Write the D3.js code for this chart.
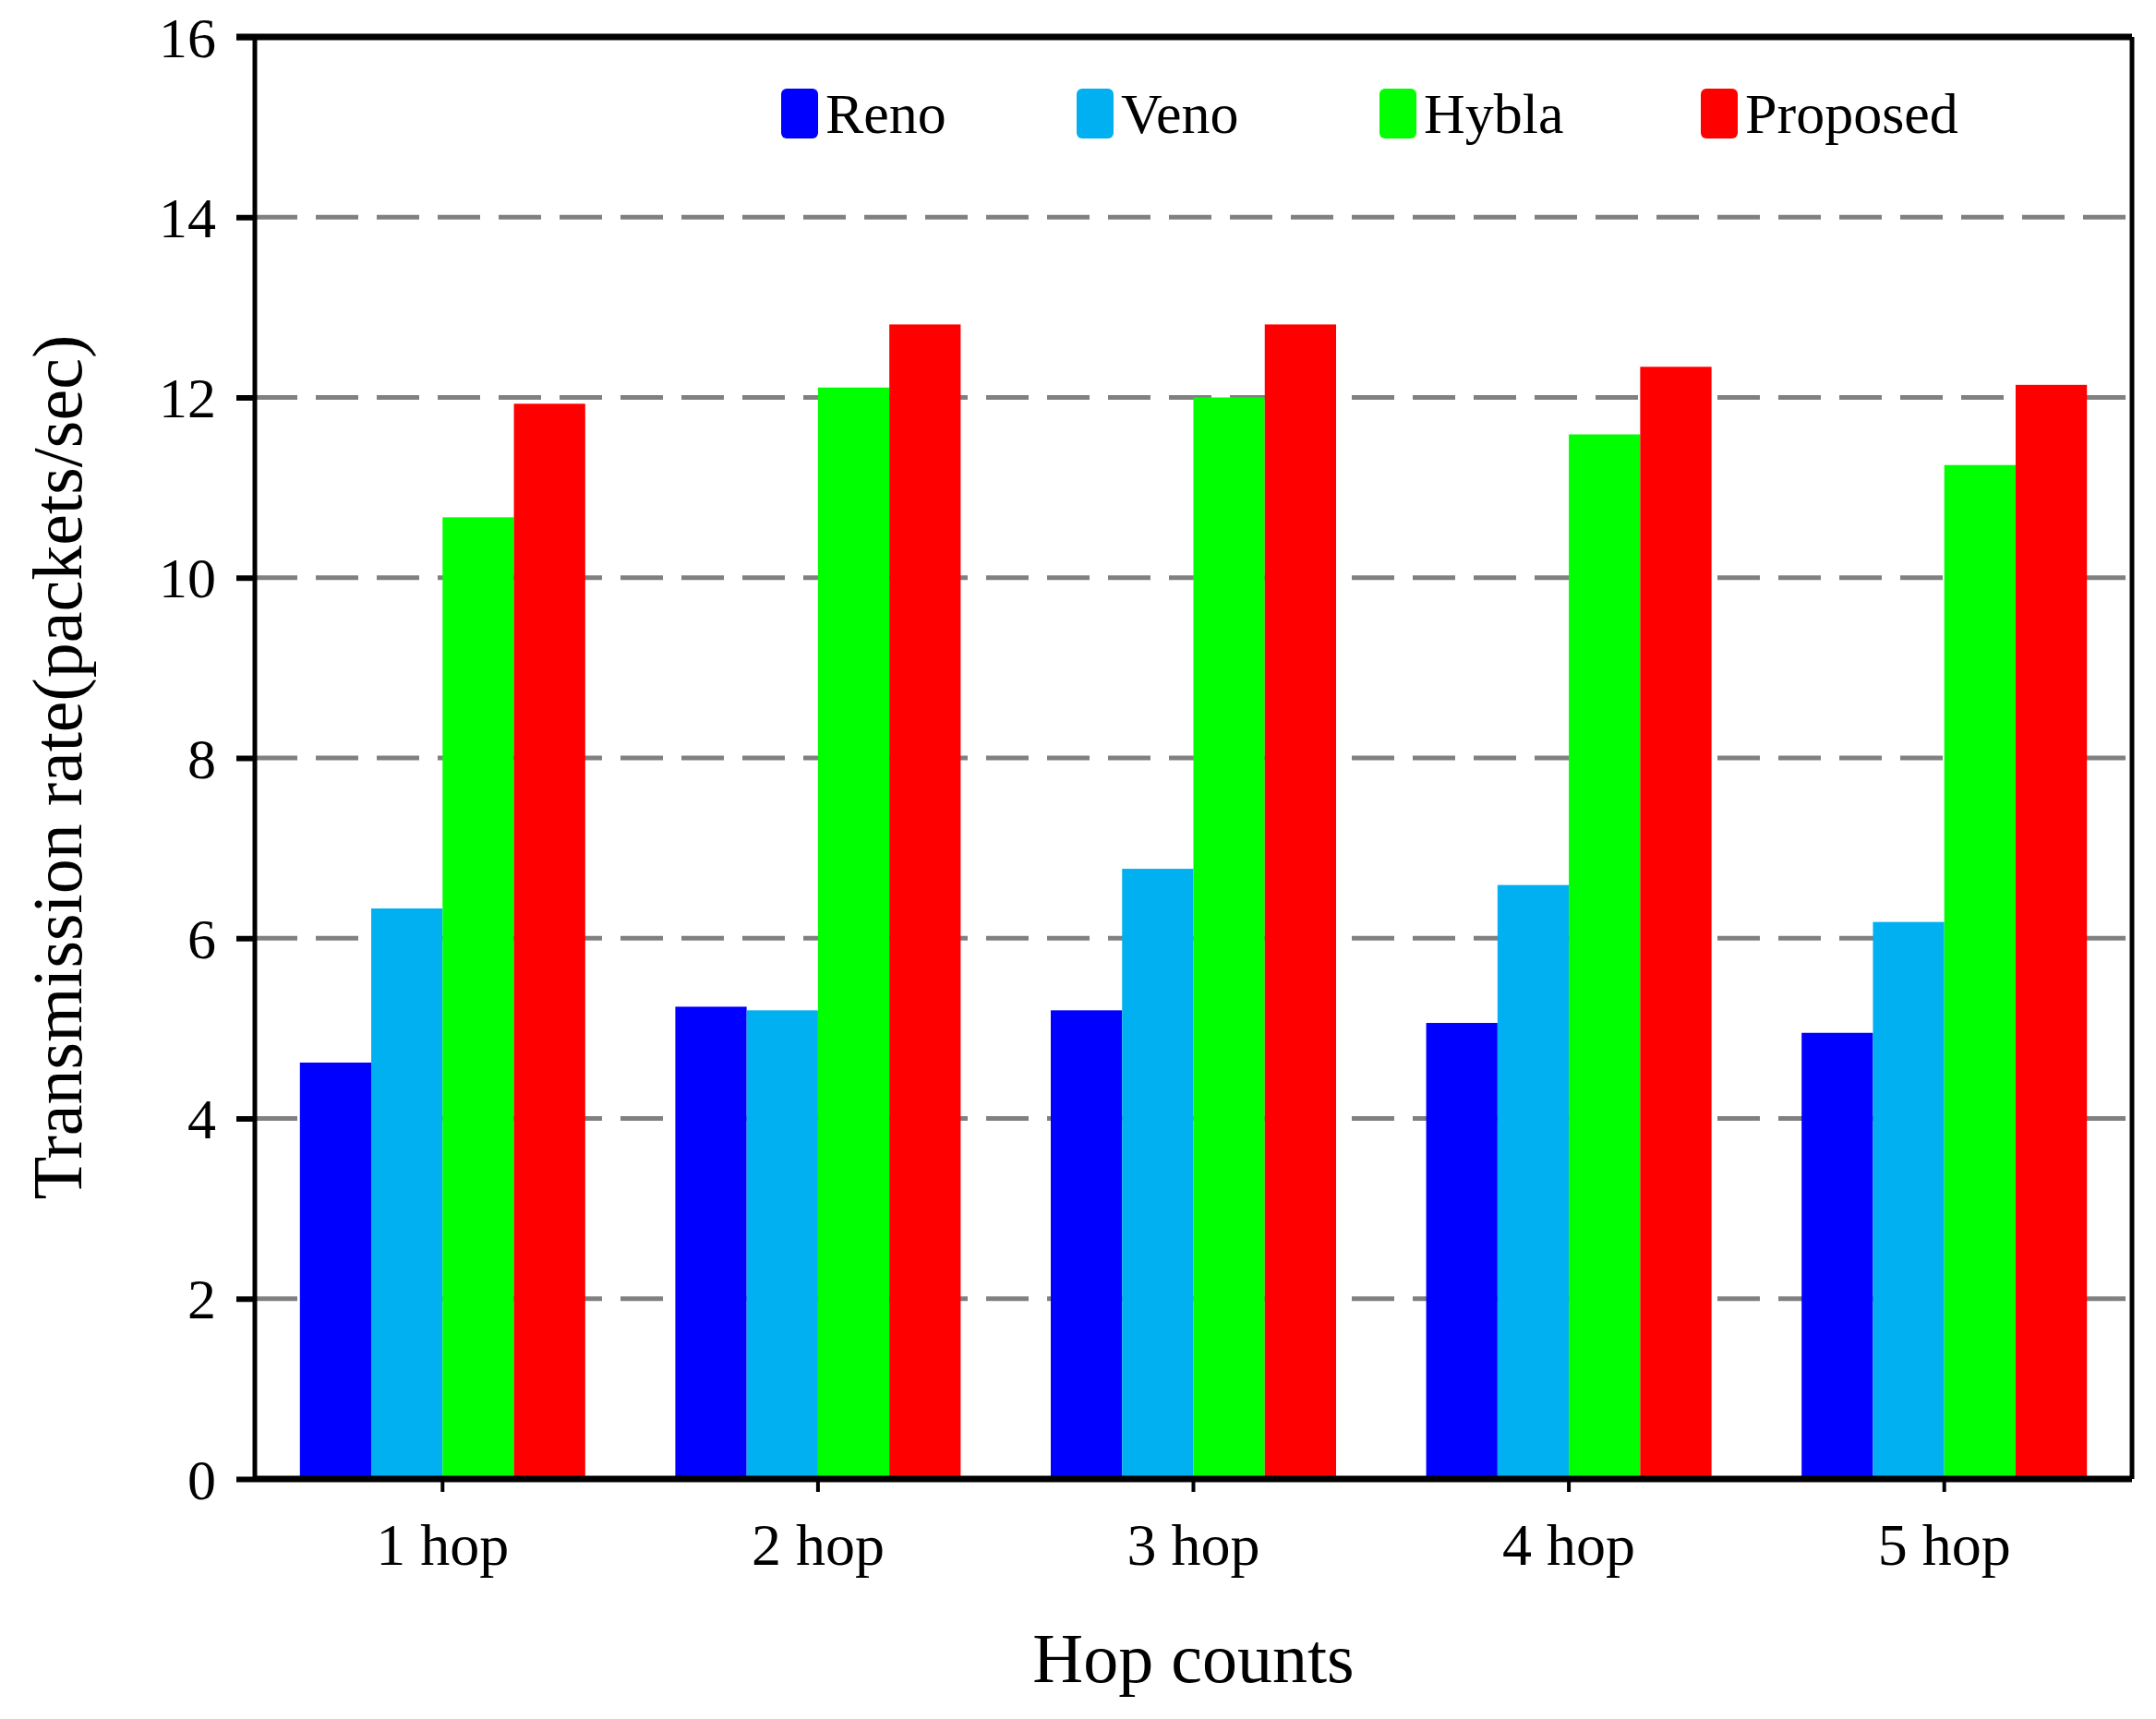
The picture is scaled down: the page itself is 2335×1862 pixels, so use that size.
<!doctype html>
<html lang="en">
<head>
<meta charset="utf-8">
<title>Transmission rate vs hop counts</title>
<style>
body { margin: 0; background: #fff; }
text { font-family: "Liberation Serif", "Times New Roman", serif; fill: #000; }
</style>
</head>
<body>
<script src="https://cdn.jsdelivr.net/npm/d3@7"></script>
<script>

var hops = ["1 hop", "2 hop", "3 hop", "4 hop", "5 hop"];
var series = ["Reno", "Veno", "Hybla", "Proposed"];
var colors = ["#0000ff", "#00b0f0", "#00ff00", "#ff0000"];
var reno = [4.62, 5.24, 5.2, 5.06, 4.95];
var veno = [6.33, 5.2, 6.77, 6.59, 6.18];
var hybla = [10.67, 12.11, 12.0, 11.59, 11.25];
var proposed = [11.93, 12.81, 12.81, 12.34, 12.14];
var yTicks = [0, 2, 4, 6, 8, 10, 12, 14, 16];

var values = [reno, veno, hybla, proposed];

var W = 2335, H = 1862;
var margin = {top: 40, right: 26, bottom: 260, left: 276};
var width = W - margin.left - margin.right,
	height = H - margin.top - margin.bottom;

var svg = d3.select("body").append("svg")
	.attr("width", W)
	.attr("height", H);

var g = svg.append("g")
	.attr("transform", "translate(" + margin.left + "," + margin.top + ")");

var x = d3.scaleBand()
	.domain(hops)
	.range([0, width])
	.paddingInner(0.24)
	.paddingOuter(0.12);

var xs = d3.scaleBand()
	.domain(series)
	.range([0, x.bandwidth()]);

var y = d3.scaleLinear()
	.domain([0, 16])
	.range([height, 0]);

// dashed grid
g.selectAll(".grid")
	.data(yTicks.filter(function (d) { return d > 0 && d < 16; }))
	.join("line")
	.attr("x1", 0)
	.attr("x2", width)
	.attr("y1", function (d) { return y(d); })
	.attr("y2", function (d) { return y(d); })
	.attr("stroke", "#808080")
	.attr("stroke-width", 5)
	.attr("stroke-dasharray", "46,20");

// bars
var groups = g.selectAll(".grp")
	.data(hops)
	.join("g")
	.attr("transform", function (d) { return "translate(" + x(d) + ",0)"; });

groups.selectAll("rect")
	.data(function (d, i) {
		return series.map(function (s, j) { return {s: s, v: values[j][i], c: colors[j]}; });
	})
	.join("rect")
	.attr("x", function (d) { return xs(d.s); })
	.attr("width", xs.bandwidth())
	.attr("y", function (d) { return y(d.v); })
	.attr("height", function (d) { return height - y(d.v); })
	.attr("fill", function (d) { return d.c; });

// y axis
var yAxis = g.append("g")
	.call(d3.axisLeft(y).tickValues(yTicks).tickSize(20).tickPadding(22));
yAxis.select(".domain").remove();
yAxis.selectAll("line").attr("stroke", "#000").attr("stroke-width", 6);
yAxis.selectAll("text").style("font-size", "62px").attr("dy", "0.34em");

// x axis
var xAxis = g.append("g")
	.attr("transform", "translate(0," + height + ")")
	.call(d3.axisBottom(x).tickSize(14).tickPadding(34));
xAxis.select(".domain").remove();
xAxis.selectAll("line").attr("stroke", "#000").attr("stroke-width", 4);
xAxis.selectAll("text").style("font-size", "64px");

// frame
g.append("line").attr("x1", 0).attr("x2", width).attr("y1", height).attr("y2", height)
	.attr("stroke", "#000").attr("stroke-width", 7);
g.append("line").attr("x1", -20).attr("x2", width).attr("y1", 0).attr("y2", 0)
	.attr("stroke", "#000").attr("stroke-width", 7);
g.append("line").attr("x1", 0).attr("x2", 0).attr("y1", 0).attr("y2", height)
	.attr("stroke", "#000").attr("stroke-width", 5);
g.append("line").attr("x1", width).attr("x2", width).attr("y1", 0).attr("y2", height)
	.attr("stroke", "#000").attr("stroke-width", 5);

// axis titles
svg.append("text")
	.attr("x", margin.left + width / 2)
	.attr("y", 1822)
	.attr("text-anchor", "middle")
	.style("font-size", "76px")
	.text("Hop counts");

svg.append("text")
	.attr("transform", "translate(88," + (margin.top + height / 2 + 10) + ") rotate(-90)")
	.attr("text-anchor", "middle")
	.style("font-size", "76px")
	.text("Transmission rate(packets/sec)");

// legend
var legendX = [846, 1166, 1494, 1842];
var legend = svg.selectAll(".leg")
	.data(series)
	.join("g")
	.attr("transform", function (d, i) { return "translate(" + legendX[i] + ",96)"; });

legend.append("rect")
	.attr("width", 40)
	.attr("height", 54)
	.attr("rx", 6)
	.attr("fill", function (d, i) { return colors[i]; });

legend.append("text")
	.attr("x", 48)
	.attr("y", 48)
	.style("font-size", "62px")
	.text(function (d) { return d; });

</script>
</body>
</html>
